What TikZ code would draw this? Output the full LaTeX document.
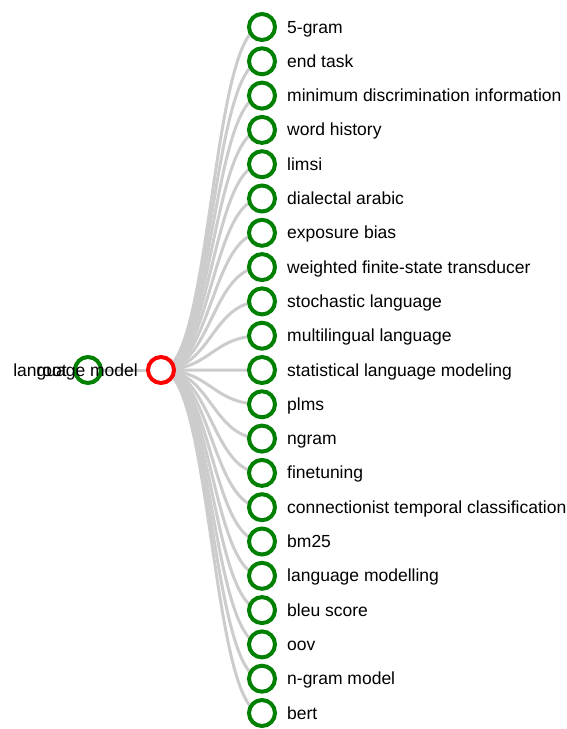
\documentclass[tikz,border=0pt]{standalone}
\usepackage{fontspec}
\setmainfont{Liberation Sans}
\usetikzlibrary{backgrounds}
\definecolor{dgreen}{HTML}{008000}
\definecolor{dred}{HTML}{FF0000}
\definecolor{linkgray}{HTML}{CCCCCC}
\begin{document}
\begin{tikzpicture}[x=1pt,y=-1pt,
  lnk/.style={draw=linkgray, line width=3pt},
  leaf/.style={circle, draw=dgreen, line width=4pt, fill=white, minimum size=26pt, inner sep=0pt},
  hub/.style={circle, draw=dred, line width=4pt, fill=white, minimum size=26pt, inner sep=0pt},
  lbl/.style={inner sep=0pt, font=\fontsize{17.5}{20}\selectfont, text=black}]
\useasboundingbox (0,0) rectangle (566,729);
\node[leaf] (root) at (88,370) {};
\node[hub] (m) at (161,370) {};
\node[lbl, anchor=base east] (troot) at (67,376) {root};
\node[lbl, anchor=base east] (tm) at (138,376) {language model};
\foreach \t [count=\i from 0] in {5-gram,end task,minimum discrimination information,word history,limsi,dialectal arabic,exposure bias,weighted finite-state transducer,stochastic language,multilingual language,statistical language modeling,plms,ngram,finetuning,connectionist temporal classification,bm25,language modelling,bleu score,oov,n-gram model,bert}{
  \node[leaf] (c\i) at (262,{27+34.3*\i}) {};
  \node[lbl, anchor=base west] (t\i) at (287,{33+34.3*\i}) {\t};
}
\begin{pgfonlayer}{background}
\draw[lnk] (root.center) -- (m.center);
\foreach \i in {0,...,20}{
  \draw[lnk] (m.center) .. controls ([xshift=50.5pt]m.center) and ([xshift=-50.5pt]c\i.center) .. (c\i.center);
}
\end{pgfonlayer}
\end{tikzpicture}
\end{document}
